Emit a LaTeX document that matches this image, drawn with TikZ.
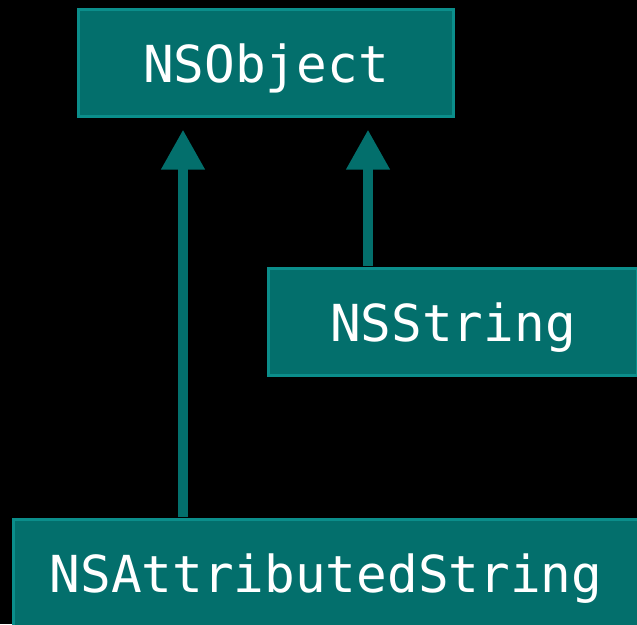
\documentclass[tikz,border=0pt]{standalone}
\usepackage{fontspec}
\setmonofont{DejaVu Sans Mono}
\usepackage{xcolor}
\definecolor{clsfill}{HTML}{036F6C}
\definecolor{clsline}{HTML}{0B8E8B}
\usepackage{tikz}
\usetikzlibrary{arrows.meta,positioning}

\begin{document}
\begin{tikzpicture}[x=1pt,y=-1pt]
\tikzset{
 cls/.style={draw=clsline,line width=3pt,fill=clsfill,text=white,minimum height=107pt,
  font=\ttfamily\fontsize{51}{60}\selectfont,inner sep=0pt,text height=39pt,text depth=0pt},
 inh/.style={-{Triangle[width=41pt,length=40pt]},line width=10pt,draw=clsfill,
  shorten <=1.5pt,shorten >=11.5pt}
}
\fill[black] (0,0) rectangle (637,624);
\useasboundingbox (0,0) rectangle (637,624);
\node[cls,minimum width=375pt] (obj) at (266,63) {NSObject};
\node[cls,minimum width=369pt] (str) at (453,322) {NSString};
\node[cls,minimum width=625pt] (attr) at (326,573) {NSAttributedString};
\coordinate (lx) at (183,0);
\coordinate (rx) at (368,0);
\draw[inh] (attr.north -| lx) -- (obj.south -| lx);
\draw[inh] (str.north -| rx) -- (obj.south -| rx);
\end{tikzpicture}
\end{document}
